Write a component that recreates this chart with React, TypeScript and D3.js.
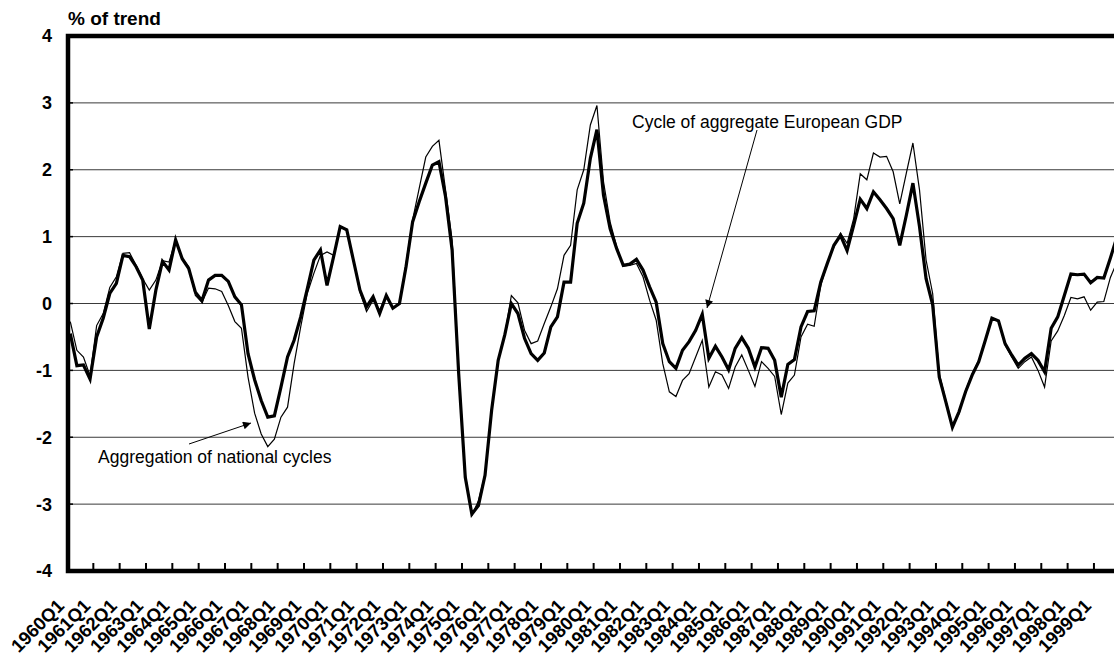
import { useEffect, useRef } from 'react';
import * as d3 from 'd3';

// quarters 1960Q1 .. 1999Q4
const YEARS = d3.range(1960, 2000);
const QUARTERS = YEARS.flatMap(y => [1, 2, 3, 4].map(q => `${y}Q${q}`));
const TICK_LABELS = YEARS.map(y => `${y}Q1`);
const Y_TICKS = [-4, -3, -2, -1, 0, 1, 2, 3, 4];

// thick line: cycle of aggregate European GDP (% of trend)
const EUROPEAN_GDP = [
  -0.45, -0.93, -0.92, -1.13, -0.5, -0.22, 0.15, 0.3, 0.72, 0.7,
  0.55, 0.35, -0.38, 0.2, 0.63, 0.5, 0.95, 0.67, 0.52, 0.17,
  0.04, 0.35, 0.42, 0.42, 0.33, 0.1, -0.02, -0.75, -1.14, -1.45,
  -1.7, -1.68, -1.25, -0.8, -0.55, -0.2, 0.22, 0.65, 0.8, 0.27,
  0.7, 1.15, 1.1, 0.65, 0.2, -0.05, 0.1, -0.15, 0.12, -0.07,
  0.0, 0.55, 1.22, 1.52, 1.8, 2.07, 2.12, 1.6, 0.8, -1.05,
  -2.6, -3.15, -3.02, -2.57, -1.6, -0.85, -0.47, 0.0, -0.15, -0.52,
  -0.75, -0.85, -0.74, -0.35, -0.2, 0.32, 0.32, 1.2, 1.5, 2.17,
  2.6, 1.62, 1.12, 0.82, 0.57, 0.59, 0.66, 0.5, 0.25, 0.02,
  -0.6, -0.87, -0.97, -0.7, -0.57, -0.4, -0.16, -0.82, -0.64, -0.8,
  -0.99, -0.67, -0.51, -0.67, -0.95, -0.66, -0.67, -0.85, -1.4, -0.91,
  -0.84, -0.35, -0.12, -0.11, 0.32, 0.6, 0.87, 1.02, 0.79, 1.17,
  1.56, 1.42, 1.67, 1.55, 1.42, 1.27, 0.87, 1.32, 1.8, 1.15,
  0.37, -0.02, -1.1, -1.47, -1.85, -1.62, -1.32, -1.07, -0.87, -0.55,
  -0.22, -0.26, -0.6, -0.77, -0.92, -0.82, -0.75, -0.85, -1.02, -0.37,
  -0.2, 0.12, 0.44, 0.43, 0.44, 0.31, 0.39, 0.38, 0.68, 1.0,
];

// thin line: aggregation of national cycles
const NATIONAL_CYCLES = [
  -0.27, -0.7, -0.8, -1.08, -0.33, -0.15, 0.24, 0.4, 0.75, 0.76,
  0.57, 0.37, 0.2, 0.35, 0.64, 0.62, 0.95, 0.68, 0.55, 0.12,
  0.02, 0.23, 0.22, 0.18, -0.03, -0.27, -0.37, -1.1, -1.64, -1.95,
  -2.14, -2.03, -1.7, -1.55, -0.9, -0.35, 0.15, 0.45, 0.72, 0.77,
  0.72, 1.14, 1.1, 0.67, 0.17, -0.12, 0.05, -0.1, 0.12, -0.07,
  0.0, 0.6, 1.25, 1.72, 2.19, 2.35, 2.44, 1.7, 0.95, -1.0,
  -2.55, -3.17, -2.95, -2.55, -1.6, -0.85, -0.47, 0.12, 0.01, -0.4,
  -0.6, -0.56, -0.3, -0.05, 0.22, 0.72, 0.87, 1.7, 2.0, 2.67,
  2.96, 1.82, 1.22, 0.85, 0.56, 0.57, 0.6, 0.4, 0.05, -0.25,
  -0.9, -1.32, -1.39, -1.15, -1.05, -0.8, -0.55, -1.25, -1.02, -1.07,
  -1.27, -0.95, -0.77, -1.0, -1.24, -0.87, -0.97, -1.09, -1.66, -1.19,
  -1.07, -0.5, -0.31, -0.34, 0.27, 0.6, 0.85, 1.05, 0.9, 1.27,
  1.94, 1.85, 2.25, 2.19, 2.2, 1.97, 1.49, 1.95, 2.4, 1.7,
  0.65, 0.15, -1.05, -1.45, -1.82, -1.65, -1.3, -1.05, -0.85, -0.55,
  -0.22, -0.27, -0.62, -0.8, -0.97, -0.87, -0.8, -1.0, -1.25, -0.56,
  -0.41, -0.18, 0.09, 0.07, 0.1, -0.1, 0.02, 0.03, 0.39, 0.62,
];

const FONT = '"Liberation Sans", Arial, sans-serif';

const App = () => {
  const svgRef = useRef<SVGSVGElement>(null);

  useEffect(() => {
    const width = 1114;
    const height = 655;
    const left = 67;
    const top = 36;
    const bottom = 571;

    d3.select(svgRef.current).selectAll('*').remove();
    const svg = d3.select(svgRef.current)
      .attr('width', width)
      .attr('height', height);

    const x = d3.scaleBand<string>()
      .domain(QUARTERS)
      .range([left, left + 160 * 6.583])
      .padding(0);
    const cx = (q: string) => (x(q) as number) + x.bandwidth() / 2;

    const y = d3.scaleLinear().domain([-4, 4]).range([bottom, top]);

    // horizontal gridlines
    svg.append('g')
      .selectAll('line')
      .data(Y_TICKS.filter(v => v > -4 && v < 4))
      .enter()
      .append('line')
      .attr('x1', left)
      .attr('x2', width)
      .attr('y1', d => y(d))
      .attr('y2', d => y(d))
      .attr('stroke', '#3a3a3a')
      .attr('stroke-width', 1);

    // small ticks on the left axis
    svg.append('g')
      .selectAll('line')
      .data(Y_TICKS)
      .enter()
      .append('line')
      .attr('x1', left)
      .attr('x2', left + 6)
      .attr('y1', d => y(d))
      .attr('y2', d => y(d))
      .attr('stroke', '#000')
      .attr('stroke-width', 1.5);

    // y labels
    svg.append('g')
      .selectAll('text')
      .data(Y_TICKS)
      .enter()
      .append('text')
      .attr('x', 52)
      .attr('y', d => y(d))
      .attr('dy', '0.36em')
      .attr('text-anchor', 'end')
      .attr('font-family', FONT)
      .attr('font-weight', 'bold')
      .attr('font-size', 18)
      .text(d => d);

    // x ticks every 4 quarters
    const tickQs = QUARTERS.filter((_, i) => i % 4 === 0 && i > 0);
    svg.append('g')
      .selectAll('line')
      .data(tickQs)
      .enter()
      .append('line')
      .attr('x1', d => x(d) as number)
      .attr('x2', d => x(d) as number)
      .attr('y1', bottom)
      .attr('y2', bottom - 8)
      .attr('stroke', '#000')
      .attr('stroke-width', 2);

    // x labels, rotated
    svg.append('g')
      .selectAll('text')
      .data(TICK_LABELS)
      .enter()
      .append('text')
      .attr('transform', d => `translate(${cx(d) - 5}, 607) rotate(-45)`)
      .attr('text-anchor', 'end')
      .attr('font-family', FONT)
      .attr('font-weight', 'bold')
      .attr('font-size', 18.5)
      .text(d => d);

    const line = d3.line<number>()
      .x((_, i) => cx(QUARTERS[i]))
      .y(d => y(d));

    svg.append('path')
      .attr('d', line(NATIONAL_CYCLES))
      .attr('fill', 'none')
      .attr('stroke', '#000')
      .attr('stroke-width', 1.2)
      .attr('stroke-linejoin', 'miter');

    svg.append('path')
      .attr('d', line(EUROPEAN_GDP))
      .attr('fill', 'none')
      .attr('stroke', '#000')
      .attr('stroke-width', 3.2)
      .attr('stroke-linejoin', 'miter');

    // frame: top, left, bottom
    svg.append('path')
      .attr('d', `M${width + 10},${top} H${left + 1} V${bottom} H${width + 10}`)
      .attr('fill', 'none')
      .attr('stroke', '#000')
      .attr('stroke-width', 4.5);

    // title
    svg.append('text')
      .attr('x', 68)
      .attr('y', 25)
      .attr('font-family', FONT)
      .attr('font-weight', 'bold')
      .attr('font-size', 19)
      .text('% of trend');

    // annotations
    const defs = svg.append('defs');
    defs.append('marker')
      .attr('id', 'arrow')
      .attr('viewBox', '0 0 10 10')
      .attr('refX', 10)
      .attr('refY', 5)
      .attr('markerWidth', 11)
      .attr('markerHeight', 8)
      .attr('markerUnits', 'userSpaceOnUse')
      .attr('orient', 'auto')
      .append('path')
      .attr('d', 'M0,0 L10,5 L0,10 Z')
      .attr('fill', '#000');

    const notes = [
      { text: 'Cycle of aggregate European GDP', tx: 632, ty: 128, x1: 757, y1: 130, x2: 707, y2: 308 },
      { text: 'Aggregation of national cycles', tx: 98, ty: 463, x1: 189, y1: 444, x2: 251, y2: 423 },
    ];
    notes.forEach(n => {
      svg.append('text')
        .attr('x', n.tx)
        .attr('y', n.ty)
        .attr('font-family', FONT)
        .attr('font-size', 17.5)
        .text(n.text);
      svg.append('line')
        .attr('x1', n.x1)
        .attr('y1', n.y1)
        .attr('x2', n.x2)
        .attr('y2', n.y2)
        .attr('stroke', '#000')
        .attr('stroke-width', 1)
        .attr('marker-end', 'url(#arrow)');
    });
  }, []);

  return (
    <svg ref={svgRef} style={{ position: 'absolute', left: 0, top: 0, background: '#fff' }} />
  );
};

export default App;
